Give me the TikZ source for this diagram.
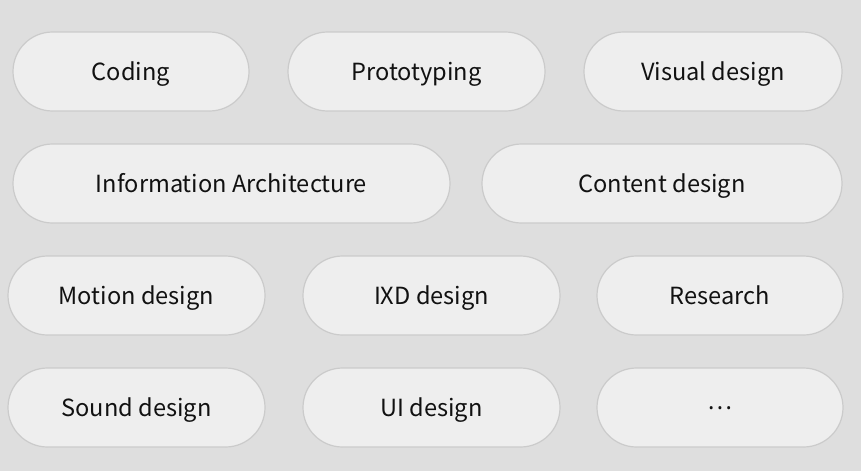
\documentclass[tikz,border=0pt]{standalone}
\usepackage{fontspec}
\setmainfont{Noto Sans CJK SC}
\newfontfamily\dotfont{Noto Sans}
\definecolor{bg}{HTML}{DEDEDE}
\definecolor{pillfill}{HTML}{EEEEEE}
\definecolor{pillline}{HTML}{CBCBCB}
\definecolor{txt}{HTML}{111111}
\begin{document}
\begin{tikzpicture}[x=1pt,y=-1pt,
  pill/.style={draw=pillline,line width=1.2pt,fill=pillfill,rounded corners=39.5pt},
  lbl/.style={text=txt,anchor=base,inner sep=0pt,font=\fontsize{23.6}{27}\selectfont}]
\fill[bg] (0,0) rectangle (861,471);
\useasboundingbox (0,0) rectangle (861,471);
\newcommand{\pillbox}[6]{%
  \draw[pill] (#2,#4) rectangle (#3,#5);
  \node[lbl] (#1) at ({(#2+#3)/2},{(#4+#5)/2+8.5}) {#6};}
\pillbox{coding}{13}{249}{32}{111}{Coding}
\pillbox{proto}{288}{545}{32}{111}{Prototyping}
\pillbox{visual}{584}{842}{32}{111}{Visual design}
\pillbox{ia}{13}{450}{144}{223}{Information Architecture}
\pillbox{content}{482}{842}{144}{223}{Content design}
\pillbox{motion}{8}{265}{256}{335}{Motion design}
\pillbox{ixd}{303}{560}{256}{335}{IXD design}
\pillbox{research}{597}{843}{256}{335}{Research}
\pillbox{sound}{8}{265}{368}{447}{Sound design}
\pillbox{ui}{303}{560}{368}{447}{UI design}
\pillbox{more}{597}{843}{368}{447}{\dotfont\bfseries ·\kern2.5pt·\kern2.5pt·}
\end{tikzpicture}
\end{document}
